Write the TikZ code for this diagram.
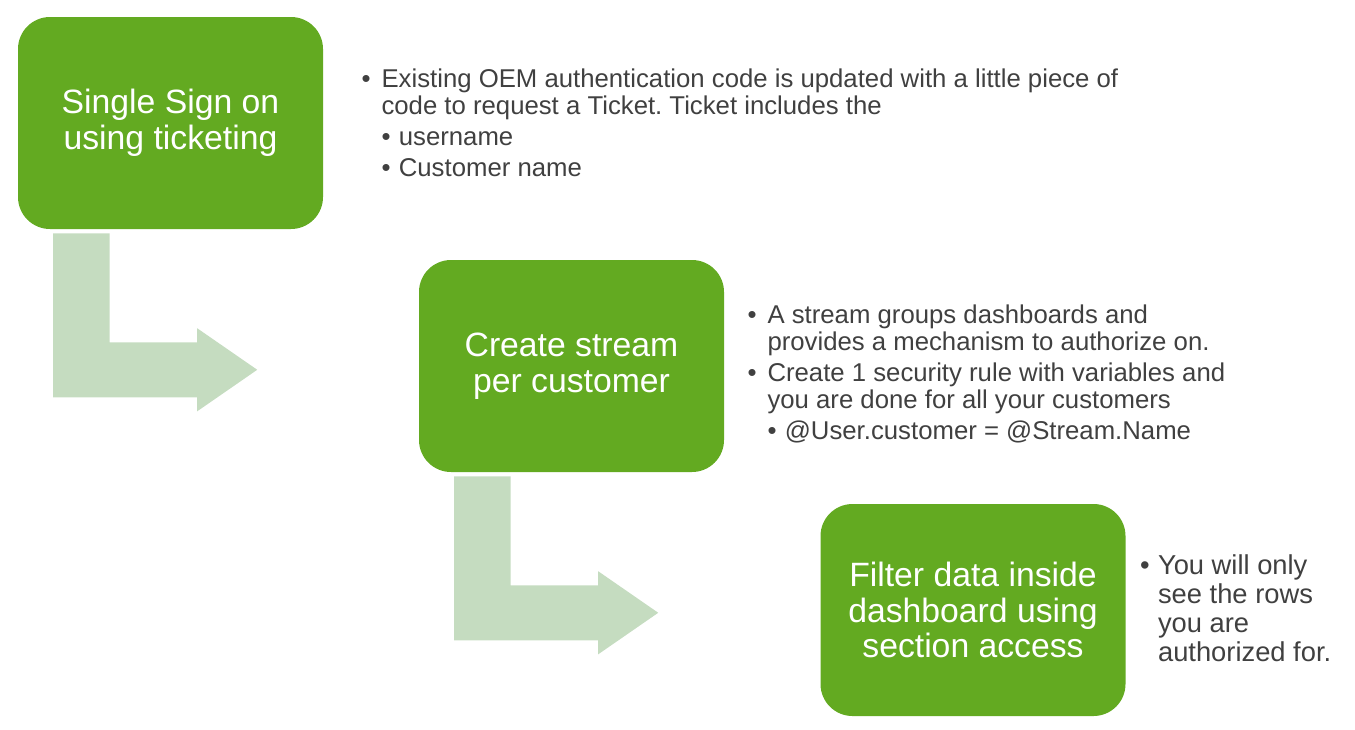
\documentclass[tikz,border=0pt]{standalone}
\usepackage{fontspec}
\setmainfont{Liberation Sans}
\usetikzlibrary{positioning}
\frenchspacing

\definecolor{stepgreen}{RGB}{99,170,33}
\definecolor{bendgreen}{RGB}{197,220,192}
\definecolor{notegray}{RGB}{64,64,64}

\newcommand\itm{\makebox[15pt][l]{\textbullet}}
\newcommand\subitm{\hspace*{15pt}\makebox[13pt][l]{\textbullet}}
\newcommand\cont{\hspace*{15pt}}

\tikzset{
  stepbox/.style={fill=stepgreen, rounded corners=24pt, inner sep=0pt,
    minimum width=228.75pt, minimum height=159pt, text=white, align=center,
    font=\fontsize{25.3pt}{26.8pt}\selectfont},
  note/.style={text=notegray, align=left, inner sep=0pt,
    font=\fontsize{19.3pt}{20.5pt}\selectfont},
  bendshape/.style={fill=bendgreen}
}

\begin{document}
\begin{tikzpicture}[x=0.75pt,y=-0.75pt]
  \useasboundingbox (0,0) rectangle (1355,729);
  % steps
  \node[stepbox] (sso) at (170.5,123) {Single Sign on\\using ticketing};
  \node[stepbox] (stream) at (571.5,366) {Create stream\\per customer};
  \node[stepbox] (filter) at (973,610) {Filter data inside\\dashboard using\\section access};
  % bent arrows
  \foreach \b in {sso,stream}
    \fill[bendshape] ([shift={(35.5,4)}]\b.south west) -- ++(56.5,0) -- ++(0,109)
      -- ++(87.5,0) -- ++(0,-14) -- ++(60,41.5) -- ++(-60,41.5) -- ++(0,-14)
      -- ++(-144,0) -- cycle;
  % notes
  \node[note, right=28.5pt of sso] (ssonote) {\itm Existing OEM authentication code is updated with a little piece of\\
    \cont code to request a Ticket. Ticket includes the\\[2.8pt]
    \subitm username\\[2.8pt]
    \subitm Customer name};
  \node[note, right=17.25pt of stream, yshift=-6pt] (streamnote) {\itm A stream groups dashboards and\\
    \cont provides a mechanism to authorize on.\\[2.8pt]
    \itm Create 1 security rule with variables and\\
    \cont you are done for all your customers\\[2.8pt]
    \subitm @User.customer = @Stream.Name};
  \node[note, right=10.5pt of filter, yshift=1pt,
    font=\fontsize{20.5pt}{21.75pt}\selectfont] (filternote) {\makebox[13.5pt][l]{\textbullet}You will only\\
    \hspace*{13.5pt}see the rows\\
    \hspace*{13.5pt}you are\\
    \hspace*{13.5pt}authorized for.};
\end{tikzpicture}
\end{document}
